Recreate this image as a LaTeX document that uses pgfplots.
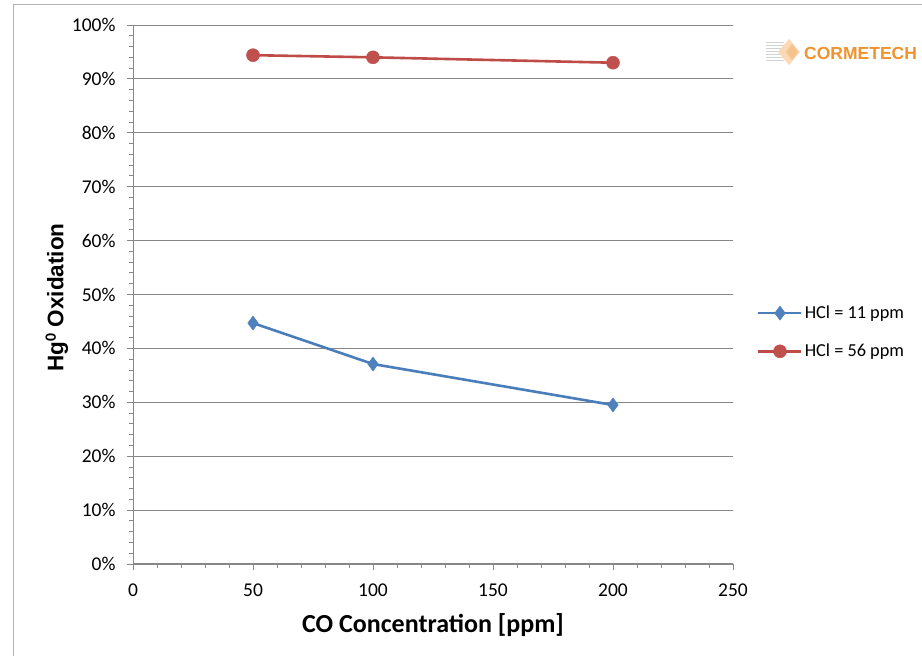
\documentclass[border=0pt]{standalone}
\usepackage{fontspec}
\setmainfont{Carlito}
\newfontfamily\arialfont{Liberation Sans}
\usepackage{pgfplots}
\pgfplotsset{compat=1.18}

\definecolor{bluel}{HTML}{4A7EBB}
\definecolor{bluem}{HTML}{4F81BD}
\definecolor{redl}{HTML}{BE4B48}
\definecolor{redm}{HTML}{C0504D}
\definecolor{axgray}{HTML}{878787}
\definecolor{logoorange}{HTML}{F0922E}

\begin{document}
\begin{tikzpicture}[x=1pt,y=1pt]
\useasboundingbox (0,0) rectangle (922,656);
\draw[gray!60, line width=1pt] (13,-10) rectangle (940,651);

% logo
\foreach \yy in {595,598,...,613} {
  \draw[gray!35, line width=1pt] (766,\yy) -- (784,\yy);
}
\fill[logoorange!35] (789,591) -- (800,604) -- (789,617) -- (778,604) -- cycle;
\fill[logoorange!55] (792,596) -- (798,604) -- (792,612) -- (786,604) -- cycle;
\node[font=\arialfont\bfseries\fontsize{17.5}{20}\selectfont, text=logoorange, anchor=west, inner sep=0pt] at (804,603) {CORMETECH};

\begin{axis}[
  at={(133pt,92pt)}, anchor=south west,
  scale only axis, width=600pt, height=539pt,
  xmin=0, xmax=250, ymin=0, ymax=100,
  axis x line=bottom, axis y line=left,
  axis line style={axgray, line width=1pt, -},
  xtick={0,50,100,150,200,250},
  ytick={0,10,20,30,40,50,60,70,80,90,100},
  yticklabels={0\%,10\%,20\%,30\%,40\%,50\%,60\%,70\%,80\%,90\%,100\%},
  /pgf/number format/assume math mode=true,
  minor x tick num=4, minor y tick num=4,
  ymajorgrids, grid style={axgray, line width=0.9pt},
  tick align=outside, major tick length=6pt, minor tick length=4pt,
  tick style={axgray, line width=0.9pt},
  tick label style={font=\fontsize{19.5}{22}\selectfont, text=black},
  yticklabel style={xshift=-8pt},
  xticklabel style={yshift=-10pt},
  xlabel={\bfseries CO Concentration [ppm]},
  xlabel style={font=\fontsize{26}{30}\selectfont, at={(axis description cs:0.5,0)}, anchor=center, yshift=-61pt},
  ylabel={\arialfont\bfseries Hg$^{\mathbf{0}}$ Oxidation},
  ylabel style={font=\fontsize{22.5}{26}\selectfont, at={(axis description cs:-0.127,0.494)}, anchor=center},
  legend style={at={(1.04,0.43)}, anchor=west, draw=none, fill=none,
    font=\fontsize{18.3}{21}\selectfont, row sep=20pt, inner sep=0pt},
  legend cell align=left,
  legend image code/.code={
    \draw[#1, mark=none] (0pt,0pt) -- (43pt,0pt);
    \draw[#1, only marks] plot coordinates {(21.5pt,0pt)};
  },
  clip=false,
]
\addplot[color=bluel, line width=2.6pt, mark=diamond*, mark size=7pt,
  mark options={fill=bluem, draw=bluem, line width=0.5pt}]
  coordinates {(50,44.7) (100,37.1) (200,29.5)};
\addlegendentry{HCl = 11 ppm}
\addplot[color=redl, line width=2.6pt, mark=*, mark size=6.5pt,
  mark options={fill=redm, draw=redm, line width=0.5pt}]
  coordinates {(50,94.4) (100,94.0) (200,93.0)};
\addlegendentry{HCl = 56 ppm}
\end{axis}
\end{tikzpicture}
\end{document}
